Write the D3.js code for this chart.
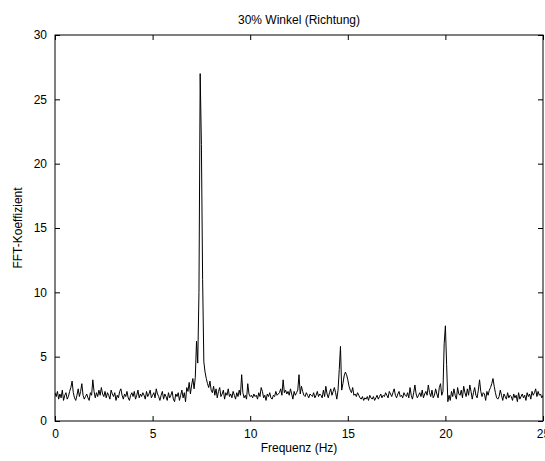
<!DOCTYPE html>
<html>
<head>
<meta charset="utf-8">
<script src="https://cdn.jsdelivr.net/npm/d3@7"></script>
<style>
  body { margin: 0; background: #fff; overflow: hidden; }
  text { font-family: "Liberation Sans", Arial, sans-serif; fill: #000; }
</style>
</head>
<body>
<div id="chart"></div>
<script>
// spectrum, 16 bins per Hz (0 .. 25 Hz)
const freqStep = 0.0625;
const fftValues = [
  2.2,1.9,2.3,1.7,2.1,1.8,2.4,1.6,2.0,2.2,1.7,1.9,2.3,2.6,3.1,2.2,
  1.8,1.6,2.0,2.5,1.9,2.3,2.9,2.0,1.7,1.9,2.1,1.8,1.6,2.2,2.0,3.2,
  2.3,1.8,2.2,1.9,2.4,2.0,2.6,2.1,1.9,2.3,1.8,2.2,2.0,1.7,2.4,2.1,
  1.9,2.2,1.6,2.0,1.8,2.3,2.5,2.0,1.7,2.1,1.9,2.3,1.8,1.6,2.0,2.2,
  1.9,2.3,1.7,2.0,2.4,1.8,2.1,1.9,2.2,2.0,1.7,2.3,1.9,2.1,2.4,1.8,
  2.0,2.2,1.8,2.5,2.1,1.9,1.6,2.0,2.3,1.7,2.1,1.9,1.6,2.2,1.8,2.0,
  2.3,1.7,1.5,2.1,1.9,2.2,1.6,2.0,2.4,1.8,2.2,1.5,2.6,2.3,3.0,2.1,
  2.8,3.3,2.5,3.4,6.2,4.5,10.0,27.0,21.5,11.0,4.6,3.8,3.3,2.9,2.6,3.1,
  2.4,2.2,2.7,2.0,2.5,1.8,2.3,2.6,1.9,2.1,2.4,1.7,2.2,2.0,2.5,1.9,
  2.1,1.8,2.3,2.0,1.7,2.2,1.9,2.4,2.0,3.6,2.2,1.8,2.0,1.7,2.9,2.1,
  1.9,2.0,1.8,2.1,1.9,2.0,1.7,2.2,1.9,2.6,2.3,1.8,2.0,1.6,2.1,1.9,
  2.2,1.8,1.7,2.0,1.9,2.3,2.0,2.1,2.2,2.5,2.0,3.2,2.2,2.4,2.1,2.3,
  2.0,2.5,2.1,1.7,2.3,2.0,2.2,2.4,3.6,2.1,2.7,2.3,2.0,1.9,2.2,2.0,
  1.8,2.1,2.0,1.9,2.2,1.8,2.0,2.3,1.9,2.1,2.0,1.8,2.4,1.9,2.7,2.1,
  1.8,2.2,2.5,2.0,2.3,2.6,2.2,1.7,2.4,4.0,5.8,2.4,2.9,3.5,3.8,3.6,
  3.2,2.7,2.4,2.2,2.6,2.0,2.1,1.9,2.2,2.0,1.8,1.7,1.9,1.6,1.8,1.7,
  1.9,1.6,2.0,1.8,1.7,1.9,1.6,1.8,2.0,1.7,1.9,2.1,1.8,2.0,1.9,2.2,
  2.0,1.8,2.3,2.1,1.9,2.2,2.5,2.0,1.8,2.1,2.3,1.9,2.0,1.8,2.2,2.0,
  1.9,2.2,1.8,2.6,2.0,1.7,2.2,2.8,2.1,1.8,2.0,2.2,1.9,2.4,1.8,2.1,
  2.3,2.0,2.8,2.2,1.9,2.4,1.8,2.0,2.5,2.1,1.8,2.6,2.9,2.0,2.3,6.0,
  7.4,4.4,1.5,2.0,1.6,2.3,1.9,2.5,2.0,1.7,2.6,2.1,2.0,2.4,1.8,2.7,
  2.2,1.9,2.5,2.0,2.8,2.3,1.7,2.2,2.6,2.0,1.8,2.4,3.2,2.3,1.9,2.2,
  2.1,1.6,2.3,2.0,2.4,2.6,2.9,3.3,2.7,2.2,1.8,1.7,1.9,2.4,2.0,1.6,
  2.1,1.9,1.7,2.2,1.8,2.0,1.9,1.6,2.1,1.8,2.0,1.5,2.2,1.7,1.9,2.1,
  1.8,2.0,1.6,2.2,1.9,2.1,1.7,2.3,2.0,2.2,2.5,1.9,2.3,2.0,2.1,1.8,
  2.0
];
const xTicks = [0, 5, 10, 15, 20, 25];
const yTicks = [0, 5, 10, 15, 20, 25, 30];

const data = fftValues.map((v, i) => ({ f: i * freqStep, v: v }));

const width = 545, height = 461;
const margin = { top: 35, right: 2, bottom: 40, left: 55 };

const x = d3.scaleLinear().domain([0, 25]).range([margin.left, width - margin.right]);
const y = d3.scaleLinear().domain([0, 30]).range([height - margin.bottom, margin.top]);

const svg = d3.select("#chart").append("svg")
  .attr("width", width)
  .attr("height", height);

// clip so the line stays inside the box
svg.append("clipPath").attr("id", "plot")
  .append("rect")
  .attr("x", x(0)).attr("y", y(30))
  .attr("width", x(25) - x(0)).attr("height", y(0) - y(30));

svg.append("path")
  .datum(data)
  .attr("clip-path", "url(#plot)")
  .attr("fill", "none")
  .attr("stroke", "#000")
  .attr("stroke-width", 1)
  .attr("d", d3.line().x(d => x(d.f)).y(d => y(d.v)));

// axes, ticks pointing in (matlab style)
const tickLen = 5;
svg.append("g")
  .attr("transform", `translate(0,${y(0)})`)
  .call(d3.axisBottom(x).tickValues(xTicks).tickSize(-tickLen).tickPadding(8))
  .call(g => g.select(".domain").remove());
svg.append("g")
  .attr("transform", `translate(0,${y(30)})`)
  .call(d3.axisTop(x).tickValues(xTicks).tickSize(-tickLen).tickFormat(""))
  .call(g => g.select(".domain").remove());
svg.append("g")
  .attr("transform", `translate(${x(0)},0)`)
  .call(d3.axisLeft(y).tickValues(yTicks).tickSize(-tickLen).tickPadding(8))
  .call(g => g.select(".domain").remove());
svg.append("g")
  .attr("transform", `translate(${x(25)},0)`)
  .call(d3.axisRight(y).tickValues(yTicks).tickSize(-tickLen).tickFormat(""))
  .call(g => g.select(".domain").remove());

svg.selectAll(".tick line").attr("stroke", "#000");
svg.selectAll(".tick text").attr("font-size", 12).attr("font-family", "Liberation Sans, Arial, sans-serif");

svg.append("rect")
  .attr("x", x(0)).attr("y", y(30))
  .attr("width", x(25) - x(0)).attr("height", y(0) - y(30))
  .attr("fill", "none").attr("stroke", "#000").attr("stroke-width", 1);

svg.append("text")
  .attr("x", (x(0) + x(25)) / 2).attr("y", 24)
  .attr("text-anchor", "middle").attr("font-size", 12)
  .text("30% Winkel (Richtung)");

svg.append("text")
  .attr("x", (x(0) + x(25)) / 2).attr("y", 452)
  .attr("text-anchor", "middle").attr("font-size", 12)
  .text("Frequenz (Hz)");

svg.append("text")
  .attr("transform", `translate(22,${(y(0) + y(30)) / 2}) rotate(-90)`)
  .attr("text-anchor", "middle").attr("font-size", 12)
  .text("FFT-Koeffizient");
</script>
</body>
</html>
